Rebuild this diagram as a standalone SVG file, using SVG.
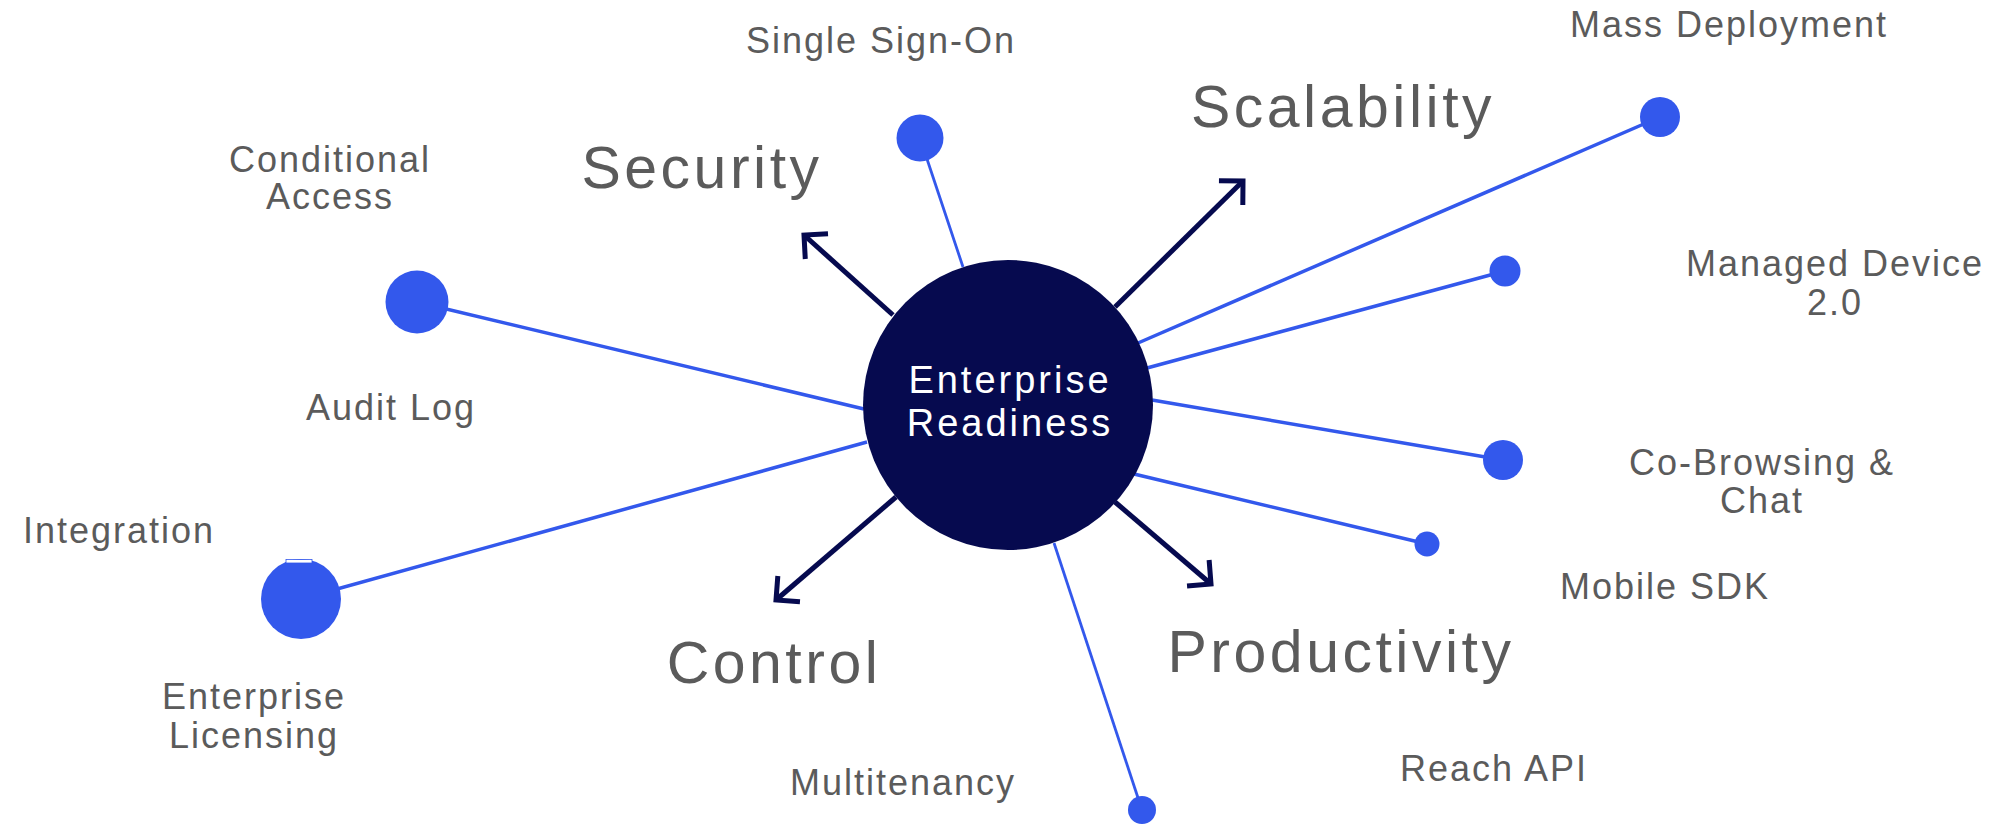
<svg xmlns="http://www.w3.org/2000/svg" width="2000" height="826" viewBox="0 0 2000 826">
<style>
.lbl{font-family:"Liberation Sans",Arial,sans-serif;font-size:36px;fill:#5b5b5b;letter-spacing:2px;text-anchor:middle}
.big{font-family:"Liberation Sans",Arial,sans-serif;font-size:59px;fill:#5b5b5b;letter-spacing:3.5px;text-anchor:middle}
.hub{font-family:"Liberation Sans",Arial,sans-serif;font-size:38px;fill:#ffffff;letter-spacing:3px;text-anchor:middle}
.spoke{stroke:#3358ec;stroke-width:3.5;fill:none}
.thin{stroke-width:2.8}
.arrow{stroke:#060a4f;stroke-width:5;fill:none;marker-end:url(#ah)}
.dot{fill:#3358ec}
</style>
<defs>
<marker id="ah" markerUnits="userSpaceOnUse" markerWidth="40" markerHeight="40" viewBox="-20 -20 40 40" refX="0" refY="0" orient="auto" overflow="visible">
<path d="M -17,-17 L 0,0 L -17,17" fill="none" stroke="#060a4f" stroke-width="5" stroke-linejoin="miter"/>
</marker>
</defs>
<rect width="2000" height="826" fill="#ffffff"/>
<g id="connectors">
<line class="spoke thin" x1="920" y1="138" x2="963" y2="267"/>
<line class="spoke" x1="417" y1="302" x2="864" y2="409"/>
<line class="spoke" x1="301" y1="599" x2="867" y2="442"/>
<line class="spoke" x1="1660" y1="117" x2="1138" y2="343"/>
<line class="spoke" x1="1505" y1="271" x2="1147" y2="368"/>
<line class="spoke" x1="1503" y1="460" x2="1152" y2="400"/>
<line class="spoke" x1="1427" y1="544" x2="1134" y2="474"/>
<line class="spoke thin" x1="1142" y1="810" x2="1054" y2="543"/>
<line class="arrow" x1="893" y1="315" x2="804" y2="235"/>
<line class="arrow" x1="1115" y1="307" x2="1243" y2="181"/>
<line class="arrow" x1="896" y1="497" x2="776" y2="600"/>
<line class="arrow" x1="1115" y1="502" x2="1211" y2="584"/>
</g>
<g id="hub">
<circle cx="1008" cy="405" r="145" fill="#060a4f"/>
<text class="hub" x="1010" y="393">Enterprise</text>
<text class="hub" x="1010" y="436">Readiness</text>
</g>
<g id="security"><text class="big" x="702" y="188">Security</text></g>
<g id="scalability"><text class="big" x="1343" y="127">Scalability</text></g>
<g id="control"><text class="big" x="774" y="683">Control</text></g>
<g id="productivity"><text class="big" x="1341" y="672">Productivity</text></g>
<g id="single-sign-on">
<circle class="dot" cx="920" cy="138" r="23.5"/>
<text class="lbl" x="881" y="53">Single Sign-On</text>
</g>
<g id="conditional-access">
<circle class="dot" cx="417" cy="302" r="31.5"/>
<text class="lbl" x="330" y="172">Conditional</text>
<text class="lbl" x="330" y="209">Access</text>
</g>
<g id="audit-log"><text class="lbl" x="391" y="420">Audit Log</text></g>
<g id="integration"><text class="lbl" x="119" y="543" letter-spacing="2.8">Integration</text></g>
<g id="enterprise-licensing">
<circle class="dot" cx="301" cy="599" r="40"/>
<rect x="286" y="559.5" width="26" height="3.5" fill="#ffffff" stroke="#3358ec" stroke-width="0.8"/>
<text class="lbl" x="254" y="709">Enterprise</text>
<text class="lbl" x="254" y="748">Licensing</text>
</g>
<g id="mass-deployment">
<circle class="dot" cx="1660" cy="117" r="20"/>
<text class="lbl" x="1729" y="37">Mass Deployment</text>
</g>
<g id="managed-device">
<circle class="dot" cx="1505" cy="271" r="15.5"/>
<text class="lbl" x="1835" y="276">Managed Device</text>
<text class="lbl" x="1835" y="315">2.0</text>
</g>
<g id="co-browsing">
<circle class="dot" cx="1503" cy="460" r="20"/>
<text class="lbl" x="1762" y="475">Co-Browsing &amp;</text>
<text class="lbl" x="1762" y="513">Chat</text>
</g>
<g id="mobile-sdk">
<circle class="dot" cx="1427" cy="544" r="12.5"/>
<text class="lbl" x="1665" y="599" letter-spacing="1.2">Mobile SDK</text>
</g>
<g id="multitenancy">
<circle class="dot" cx="1142" cy="810" r="14"/>
<text class="lbl" x="903" y="795">Multitenancy</text>
</g>
<g id="reach-api"><text class="lbl" x="1494" y="781">Reach API</text></g>
</svg>
